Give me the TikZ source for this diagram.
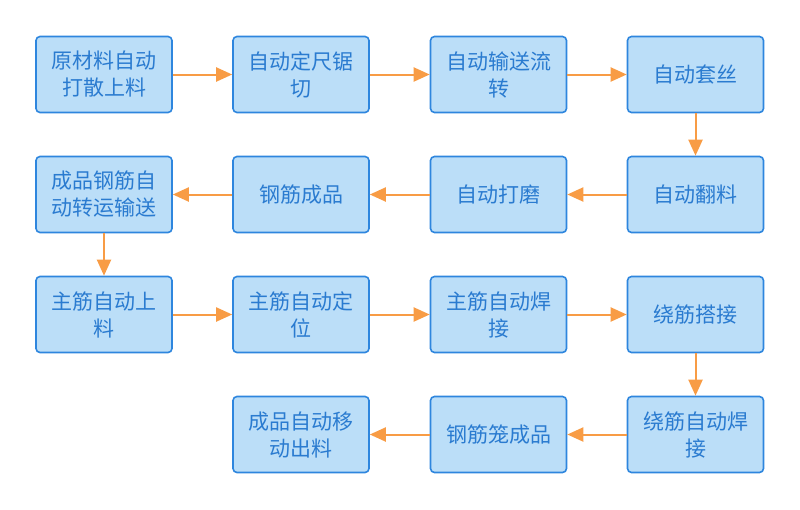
\documentclass[tikz,border=0pt]{standalone}
\usepackage{fontspec}
\newfontfamily\cjk{Noto Sans CJK SC}
\usetikzlibrary{arrows.meta}
\definecolor{boxfill}{HTML}{BBDEF8}
\definecolor{boxline}{HTML}{2E86DE}
\definecolor{boxtext}{HTML}{2A7BD0}
\definecolor{arr}{HTML}{F89C45}
\begin{document}
\begin{tikzpicture}[x=1pt,y=-1pt,
  stepbox/.style={draw=boxline, fill=boxfill, line width=1.6pt, rounded corners=4pt,
    minimum width=136pt, minimum height=76pt, inner sep=0pt, align=center,
    text width=132pt, text=boxtext, font=\cjk\fontsize{21}{27}\selectfont},
  flow/.style={draw=arr, line width=2pt, -{Triangle[length=16pt,width=14pt]}}]
\useasboundingbox (0,0) rectangle (800,509);
\node[stepbox] (a1) at (104,74.5) {原材料自动\\打散上料};
\node[stepbox] (a2) at (301,74.5) {自动定尺锯\\切};
\node[stepbox] (a3) at (498.5,74.5) {自动输送流\\转};
\node[stepbox] (a4) at (695.5,74.5) {自动套丝};
\node[stepbox] (b1) at (104,194.5) {成品钢筋自\\动转运输送};
\node[stepbox] (b2) at (301,194.5) {钢筋成品};
\node[stepbox] (b3) at (498.5,194.5) {自动打磨};
\node[stepbox] (b4) at (695.5,194.5) {自动翻料};
\node[stepbox] (c1) at (104,314.5) {主筋自动上\\料};
\node[stepbox] (c2) at (301,314.5) {主筋自动定\\位};
\node[stepbox] (c3) at (498.5,314.5) {主筋自动焊\\接};
\node[stepbox] (c4) at (695.5,314.5) {绕筋搭接};
\node[stepbox] (d2) at (301,434.5) {成品自动移\\动出料};
\node[stepbox] (d3) at (498.5,434.5) {钢筋笼成品};
\node[stepbox] (d4) at (695.5,434.5) {绕筋自动焊\\接};
\draw[flow] (a1) -- (a2);
\draw[flow] (a2) -- (a3);
\draw[flow] (a3) -- (a4);
\draw[flow] (a4) -- (b4);
\draw[flow] (b4) -- (b3);
\draw[flow] (b3) -- (b2);
\draw[flow] (b2) -- (b1);
\draw[flow] (b1) -- (c1);
\draw[flow] (c1) -- (c2);
\draw[flow] (c2) -- (c3);
\draw[flow] (c3) -- (c4);
\draw[flow] (c4) -- (d4);
\draw[flow] (d4) -- (d3);
\draw[flow] (d3) -- (d2);
\end{tikzpicture}
\end{document}
